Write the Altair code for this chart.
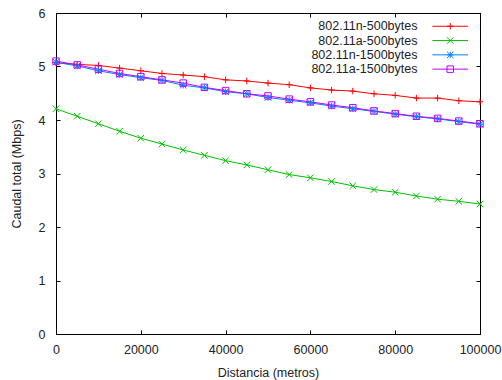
import altair as alt
import pandas as pd

distancia = [0, 5000, 10000, 15000, 20000, 25000, 30000, 35000, 40000, 45000, 50000,
             55000, 60000, 65000, 70000, 75000, 80000, 85000, 90000, 95000, 100000]

n500 = [5.07, 5.04, 5.02, 4.97, 4.92, 4.87, 4.84, 4.81, 4.75, 4.73, 4.69,
        4.66, 4.60, 4.56, 4.54, 4.49, 4.46, 4.41, 4.41, 4.36, 4.34]
a500 = [4.21, 4.07, 3.93, 3.79, 3.66, 3.55, 3.44, 3.34, 3.24, 3.16, 3.07,
        2.98, 2.92, 2.85, 2.77, 2.70, 2.65, 2.58, 2.52, 2.48, 2.43]
n1500 = [5.08, 5.01, 4.92, 4.85, 4.79, 4.74, 4.65, 4.60, 4.53, 4.49, 4.42,
         4.37, 4.32, 4.26, 4.21, 4.16, 4.11, 4.06, 4.02, 3.97, 3.92]
a1500 = [5.10, 5.03, 4.95, 4.87, 4.81, 4.75, 4.69, 4.61, 4.55, 4.49, 4.45,
         4.39, 4.34, 4.28, 4.23, 4.17, 4.12, 4.07, 4.03, 3.98, 3.93]

series = ["802.11n-500bytes", "802.11a-500bytes", "802.11n-1500bytes", "802.11a-1500bytes"]
colors = ["#ff0000", "#00c000", "#0080ff", "#c000ff"]
shapes = [
    "M-1,0L1,0M0,-1L0,1",
    "M-1,-1L1,1M-1,1L1,-1",
    "M-1,0L1,0M0,-1L0,1M-1,-1L1,1M-1,1L1,-1",
    "M-1,-1L1,-1L1,1L-1,1Z",
]
legend_shapes = ["M-5.5,0L5.5,0" + s for s in shapes]

x_ticks = [0, 20000, 40000, 60000, 80000, 100000]
y_ticks = [0, 1, 2, 3, 4, 5, 6]

rows = []
for name, vals in zip(series, [n500, a500, n1500, a1500]):
    for d, v in zip(distancia, vals):
        rows.append({"distancia": d, "caudal": v, "serie": name})
df = pd.DataFrame(rows)

FONT = "Liberation Sans"
FS = 12.5
TXT = "#222222"

legend = alt.Legend(
    title=None, orient="none", legendX=388, legendY=7,
    labelAlign="right", labelOffset={"expr": "-39"},
    labelFont=FONT, labelFontSize=FS, labelColor=TXT,
    symbolSize=42, symbolStrokeWidth=1, symbolOpacity=1, padding=0,
    rowPadding=1.3,
)

cscale = alt.Scale(domain=series, range=colors)
xscale = alt.Scale(domain=[0, 100000], nice=False, zero=False)
yscale = alt.Scale(domain=[0, 6], nice=False)

x_bottom = alt.X("distancia:Q", scale=xscale, axis=alt.Axis(
    orient="bottom", values=x_ticks, format="d", title="Distancia (metros)",
    labelFont=FONT, labelFontSize=FS, labelColor=TXT, labelPadding=13,
    tickSize={"expr": "-4"}, tickColor="black", domainColor="black", grid=False,
    labelOverlap=False, labelBound=False, labelFlush=False,
    titleFont=FONT, titleFontSize=FS, titleFontWeight="normal", titleColor=TXT,
    titleX=212, titleY=38, titleBaseline="middle"))
y_left = alt.Y("caudal:Q", scale=yscale, axis=alt.Axis(
    orient="left", values=y_ticks, format="d", title="Caudal total (Mbps)",
    labelFont=FONT, labelFontSize=FS, labelColor=TXT, labelPadding=15,
    tickSize={"expr": "-4"}, tickColor="black", domainColor="black", grid=False,
    titleFont=FONT, titleFontSize=FS, titleFontWeight="normal", titleColor=TXT,
    titleX=-40, titleY=160.5, titleAngle=270, titleAlign="center", titleBaseline="middle"))
x_top = alt.X("distancia:Q", scale=xscale, axis=alt.Axis(
    orient="top", values=x_ticks, labels=False, title=None,
    tickSize={"expr": "-4"}, tickColor="black", domainColor="black", grid=False))
y_right = alt.Y("caudal:Q", scale=yscale, axis=alt.Axis(
    orient="right", values=y_ticks, labels=False, title=None,
    tickSize={"expr": "-4"}, tickColor="black", domainColor="black", grid=False))

lines = alt.Chart(df).mark_line(strokeWidth=1).encode(
    x=x_bottom, y=y_left,
    color=alt.Color("serie:N", scale=cscale, legend=None),
    detail="serie:N",
)
points = alt.Chart(df).mark_point(filled=False, size=42, strokeWidth=1, opacity=1).encode(
    x=x_top, y=y_right,
    color=alt.Color("serie:N", scale=cscale, legend=None),
    shape=alt.Shape("serie:N", scale=alt.Scale(domain=series, range=shapes), legend=None),
)
legend_layer = alt.Chart(df).mark_point(filled=False, size=42, strokeWidth=1, opacity=0).encode(
    x=alt.X("distancia:Q", scale=xscale, axis=None),
    y=alt.Y("caudal:Q", scale=yscale, axis=None),
    color=alt.Color("serie:N", scale=cscale, legend=legend),
    shape=alt.Shape("serie:N", scale=alt.Scale(domain=series, range=legend_shapes), legend=legend),
)

chart = alt.layer(lines, points, legend_layer).resolve_axis(
    x="independent", y="independent"
).resolve_scale(shape="independent").resolve_legend(
    color="independent", shape="independent"
).properties(
    width=424, height=321,
    autosize=alt.AutoSizeParams(type="none"),
    padding={"left": 56, "top": 13, "right": 22, "bottom": 46},
    background="white",
).configure_view(stroke="black", strokeWidth=1)

chart.save("out.html", embed_options={"renderer": "svg", "actions": False})
